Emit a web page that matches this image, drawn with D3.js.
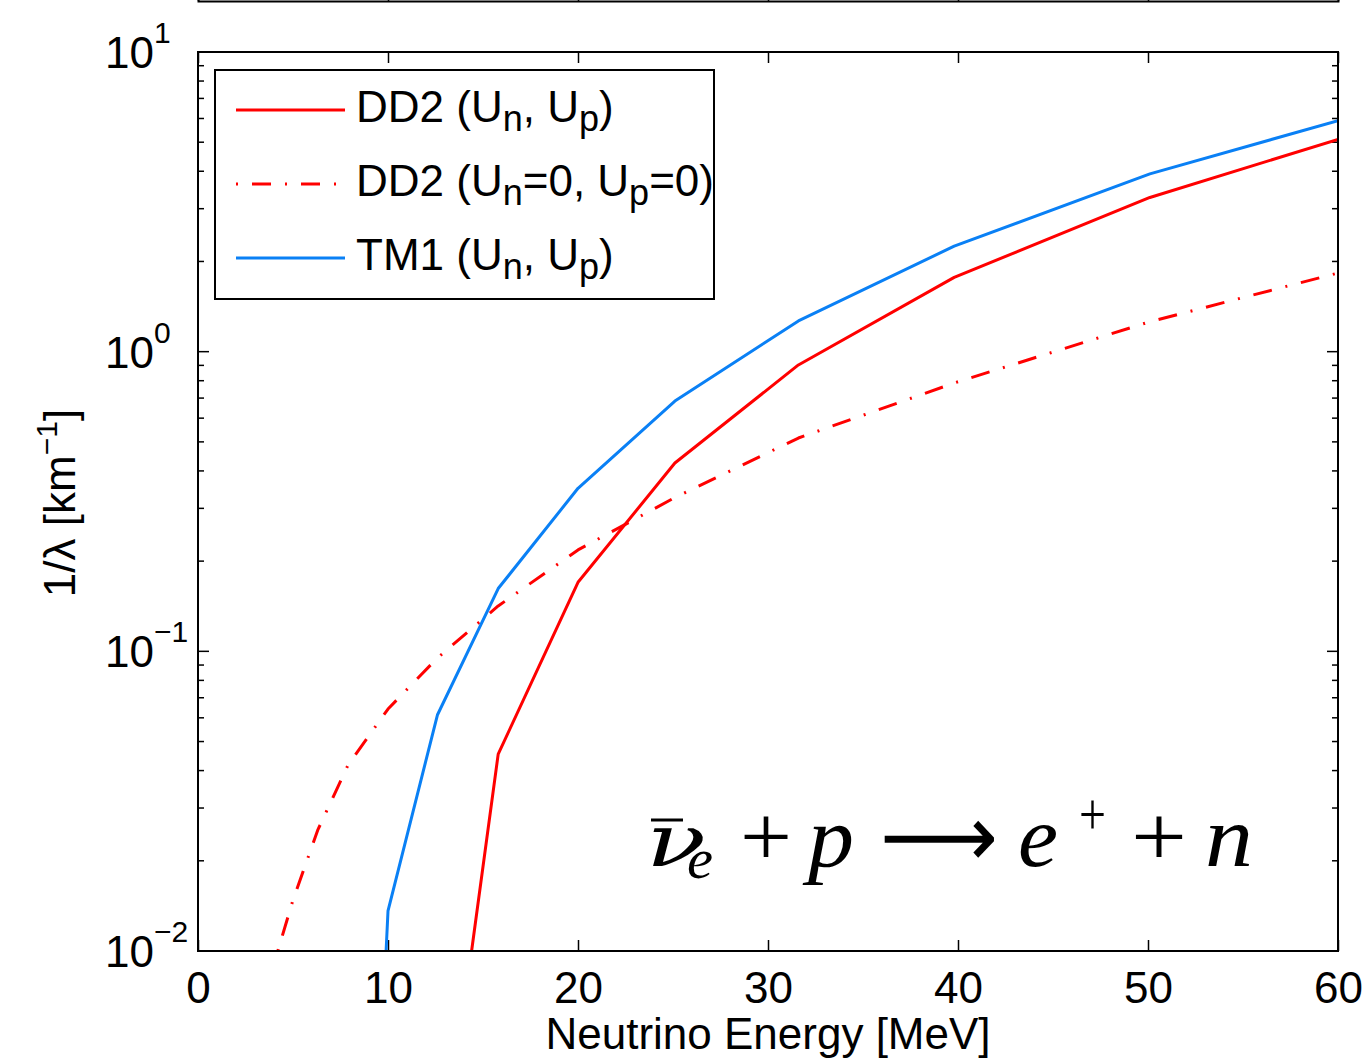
<!DOCTYPE html>
<html>
<head>
<meta charset="utf-8">
<script src="https://cdn.jsdelivr.net/npm/d3@7"></script>
<style>
  body { margin: 0; background: #fff; }
  svg { display: block; font-family: "Liberation Sans", Arial, Helvetica, sans-serif; }
</style>
</head>
<body>
<svg id="chart" width="1366" height="1059"></svg>
<script>
// axis ticks
const xTicks = [0, 10, 20, 30, 40, 50, 60];
const yMajor = [0.01, 0.1, 1, 10];
const yExponents = ['\u22122', '\u22121', '0', '1'];

// DD2 (Un, Up)
const energyDD2 = [14.4, 15.8, 20, 25.1, 31.6, 39.8, 50.1, 60];
const rateDD2 = [0.01, 0.0454, 0.170, 0.425, 0.903, 1.77, 3.27, 5.11];

// DD2 (Un=0, Up=0)
const energyDD2free = [4.2, 5, 6.3, 7.9, 10, 12.6, 15.8, 20, 25.1, 31.6, 39.8, 50.1, 60];
const rateDD2free = [0.01, 0.0148, 0.0253, 0.0418, 0.0642, 0.095, 0.1417, 0.218, 0.326, 0.515, 0.786, 1.259, 1.83];

// TM1 (Un, Up)
const energyTM1 = [9.9, 10, 12.6, 15.8, 20, 25.1, 31.6, 39.8, 50.1, 60];
const rateTM1 = [0.01, 0.0136, 0.0613, 0.162, 0.350, 0.684, 1.266, 2.25, 3.92, 5.90];

const legendLabels = ['DD2 (U_n, U_p)', 'DD2 (U_n=0, U_p=0)', 'TM1 (U_n, U_p)'];

const RED = '#ff0000';
const BLUE = '#0a80f5';
const DASHDOT = '19,14,2,14';

const series = [
  { label: legendLabels[0], e: energyDD2, r: rateDD2, color: RED, dash: null },
  { label: legendLabels[1], e: energyDD2free, r: rateDD2free, color: RED, dash: DASHDOT },
  { label: legendLabels[2], e: energyTM1, r: rateTM1, color: BLUE, dash: null }
];

const svg = d3.select('#chart');
const pLeft = 198, pRight = 1338, pTop = 52, pBottom = 951;

const x = d3.scaleLinear().domain([0, 60]).range([pLeft, pRight]);
const y = d3.scaleLog().domain([0.01, 10]).range([pBottom, pTop]);

// bit of the panel above (its bottom axis)
const upper = svg.append('g').attr('transform', 'translate(0,1)')
  .call(d3.axisBottom(x).tickValues(xTicks).tickSizeInner(-11).tickSizeOuter(-11).tickFormat(''));
upper.select('.domain').attr('stroke', '#000').attr('stroke-width', 2);
upper.selectAll('.tick line').attr('stroke', '#000').attr('stroke-width', 1.5);

svg.append('clipPath').attr('id', 'plot-clip')
  .append('rect')
  .attr('x', pLeft).attr('y', pTop)
  .attr('width', pRight - pLeft).attr('height', pBottom - pTop);

// minor + major y ticks, both sides
const yAll = y.ticks();
const tickG = svg.append('g').attr('stroke', '#000').attr('stroke-width', 1.5);
yAll.forEach(v => {
  const len = yMajor.includes(v) ? 11 : 6;
  tickG.append('line')
    .attr('x1', pLeft).attr('x2', pLeft + len)
    .attr('y1', y(v)).attr('y2', y(v));
  tickG.append('line')
    .attr('x1', pRight).attr('x2', pRight - len)
    .attr('y1', y(v)).attr('y2', y(v));
});

// x ticks bottom and top
const xAxis = svg.append('g').attr('transform', `translate(0,${pBottom})`)
  .call(d3.axisBottom(x).tickValues(xTicks).tickSizeInner(-11).tickSizeOuter(0).tickPadding(21));
xAxis.select('.domain').remove();
xAxis.selectAll('.tick line').attr('stroke', '#000').attr('stroke-width', 1.5);
xAxis.selectAll('.tick text')
  .attr('font-size', 44).attr('fill', '#000')
  .attr('font-family', '"Liberation Sans", Arial, sans-serif');

const xTop = svg.append('g').attr('transform', `translate(0,${pTop})`)
  .call(d3.axisTop(x).tickValues(xTicks).tickSizeInner(-11).tickSizeOuter(0).tickFormat(''));
xTop.select('.domain').remove();
xTop.selectAll('.tick line').attr('stroke', '#000').attr('stroke-width', 1.5);

// y tick labels 10^n
yMajor.forEach((v, i) => {
  const t = svg.append('text')
    .attr('x', 105).attr('y', y(v) + 16)
    .attr('font-size', 44).attr('fill', '#000')
    .text('10');
  t.append('tspan').attr('dy', -25).attr('font-size', 30).text(yExponents[i]);
});

// curves
const line = d3.line()
  .x(d => x(d[0]))
  .y(d => y(d[1]));

const plot = svg.append('g').attr('clip-path', 'url(#plot-clip)');
series.forEach(s => {
  plot.append('path')
    .datum(d3.zip(s.e, s.r))
    .attr('d', line)
    .attr('fill', 'none')
    .attr('stroke', s.color)
    .attr('stroke-width', 3)
    .attr('stroke-linejoin', 'round')
    .attr('stroke-dasharray', s.dash)
    .attr('stroke-dashoffset', s.dash ? 33 : null);
});

// frame
svg.append('rect')
  .attr('x', pLeft).attr('y', pTop)
  .attr('width', pRight - pLeft).attr('height', pBottom - pTop)
  .attr('fill', 'none').attr('stroke', '#000').attr('stroke-width', 2);

// legend
const legend = svg.append('g');
legend.append('rect')
  .attr('x', 215).attr('y', 70).attr('width', 499).attr('height', 229)
  .attr('fill', '#fff').attr('stroke', '#000').attr('stroke-width', 2);

function addLabel(sel, label) {
  // "_x" -> subscript x
  const parts = label.split(/_(\w)/);
  parts.forEach((p, i) => {
    if (i % 2 === 1) {
      sel.append('tspan').attr('font-size', 36).attr('dy', 9).text(p);
    } else if (p) {
      sel.append('tspan').attr('dy', i > 0 ? -9 : 0).text(p);
    }
  });
}

series.forEach((s, i) => {
  const base = 122 + i * 74;
  legend.append('line')
    .attr('x1', 236).attr('x2', 345)
    .attr('y1', base - 12).attr('y2', base - 12)
    .attr('stroke', s.color).attr('stroke-width', 3)
    .attr('stroke-dasharray', s.dash)
    .attr('stroke-dashoffset', s.dash ? 33 : null);
  const t = legend.append('text')
    .attr('x', 356).attr('y', base)
    .attr('font-size', 44).attr('fill', '#000');
  addLabel(t, s.label);
});

// axis labels
svg.append('text')
  .attr('x', (pLeft + pRight) / 2).attr('y', 1049)
  .attr('text-anchor', 'middle').attr('font-size', 44)
  .text('Neutrino Energy [MeV]');

const yl = svg.append('text')
  .attr('transform', 'translate(75,503) rotate(-90)')
  .attr('text-anchor', 'middle').attr('font-size', 44);
yl.append('tspan').text('1/\u03bb [km');
yl.append('tspan').attr('dy', -18).attr('font-size', 30).text('\u22121');
yl.append('tspan').attr('dy', 18).text(']');

// reaction annotation
const eq = svg.append('g')
  .attr('font-family', '"Liberation Serif", "DejaVu Serif", serif')
  .attr('fill', '#000');
const eqBase = 866;
const piece = (txt, x0, w, yy, size, italic) => eq.append('text')
  .attr('x', x0).attr('y', yy)
  .attr('font-size', size)
  .attr('font-style', italic ? 'italic' : 'normal')
  .attr('textLength', w).attr('lengthAdjust', 'spacingAndGlyphs')
  .text(txt);

piece('\u03bd', 646, 60, eqBase, 72, true)
  .attr('font-family', '"DejaVu Serif", serif').attr('font-weight', 300);
eq.append('line').attr('x1', 651).attr('x2', 683).attr('y1', 820).attr('y2', 820)
  .attr('stroke', '#000').attr('stroke-width', 3);
piece('e', 687, 26, eqBase + 12, 58, true);
piece('+', 740, 52, eqBase, 86, false);
piece('p', 808, 46, eqBase, 86, true);
piece('\u27f6', 880, 118, eqBase, 86, false).attr('font-family', '"DejaVu Sans", sans-serif');
piece('e', 1018, 40, eqBase, 86, true);
piece('+', 1079, 27, 834, 60, false);
piece('+', 1131, 56, eqBase, 86, false);
piece('n', 1205, 48, eqBase, 86, true);
</script>
</body>
</html>
